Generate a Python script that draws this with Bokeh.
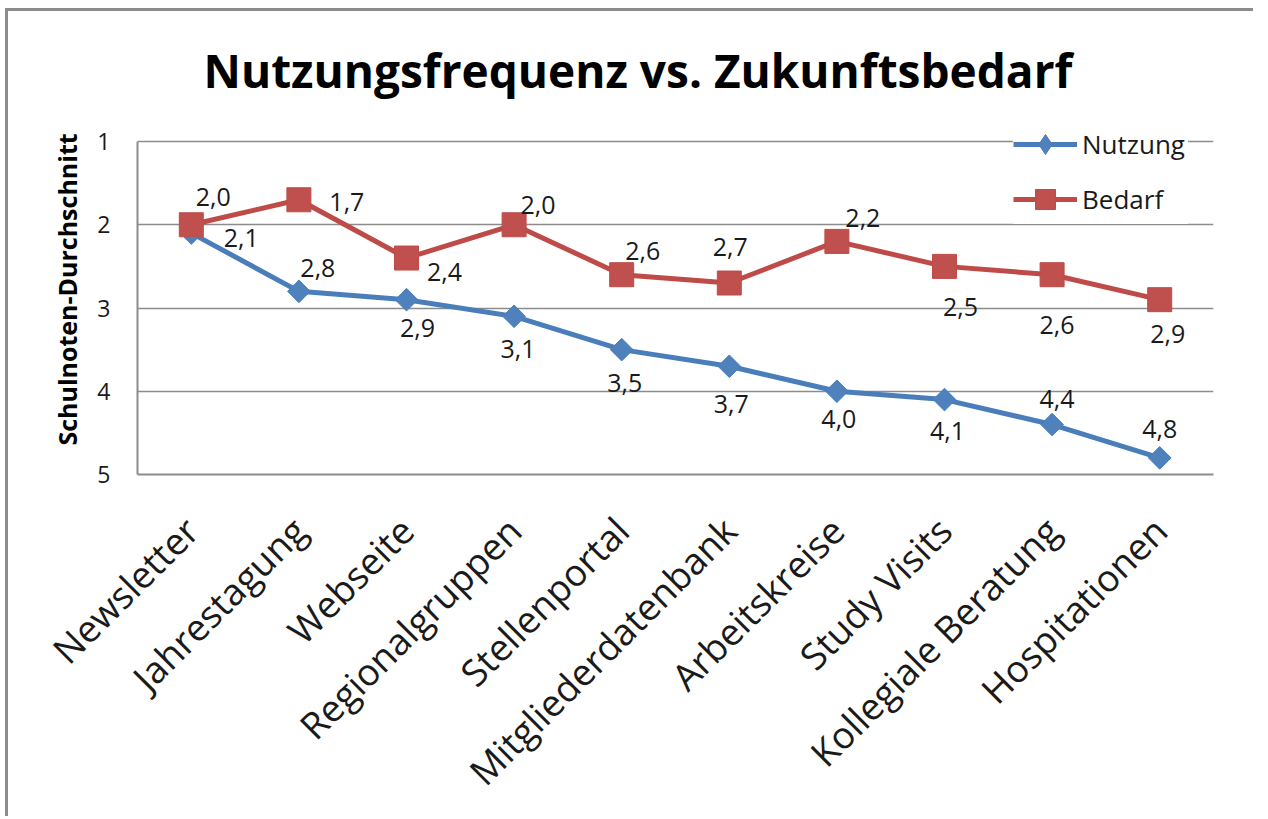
import math
from bokeh.plotting import figure
from bokeh.models import (ColumnDataSource, FactorRange, Range1d, FixedTicker,
                          LabelSet, Legend, LegendItem)
from bokeh.core.properties import value
from bokeh.embed import file_html
from bokeh.resources import INLINE

# ---------------- data ----------------
categories = ["Newsletter", "Jahrestagung", "Webseite", "Regionalgruppen",
              "Stellenportal", "Mitgliederdatenbank", "Arbeitskreise",
              "Study Visits", "Kollegiale Beratung", "Hospitationen"]
nutzung = [2.1, 2.8, 2.9, 3.1, 3.5, 3.7, 4.0, 4.1, 4.4, 4.8]
bedarf = [2.0, 1.7, 2.4, 2.0, 2.6, 2.7, 2.2, 2.5, 2.6, 2.9]
y_ticks = [1, 2, 3, 4, 5]
title_text = "Nutzungsfrequenz vs. Zukunftsbedarf"
y_title = "Schulnoten-Durchschnitt"
series_names = ["Nutzung", "Bedarf"]

# data-label placement (pixels: right, down) -- styling only
nutzung_dx = [50, 19, 11, 4, 3, 2, 2, 3, 5, 0]
nutzung_dy = [5, -23, 28, 33, 33, 38, 28, 31, -26, -29]
bedarf_dx = [22, 48, 38, 24, 21, 1, 26, 16, 5, 8]
bedarf_dy = [-28, 2, 14, -20, -24, -36, -23, 41, 50, 34]

FONT = "Open Sans"
BLUE_LINE = "#4a7ebb"
BLUE_FILL = "#4f81bd"
RED_LINE = "#be4b48"
RED_FILL = "#c0504d"
GRID = "#8c8c8c"
TEXT = "#1a1a1a"

# axis: grade 5 at the bottom, 1 near the top; a little headroom above 1
# so that the legend (which straddles the top gridline) is not clipped
Y_BOTTOM = 5
Y_TOP = 1 - 37 / 83.25


def fmt(v):
    return f"{v:.1f}".replace(".", ",")


src_n = ColumnDataSource(dict(
    cat=categories, val=nutzung, txt=[fmt(v) for v in nutzung],
    dx=nutzung_dx, dy=[-d for d in nutzung_dy]))
src_b = ColumnDataSource(dict(
    cat=categories, val=bedarf, txt=[fmt(v) for v in bedarf],
    dx=bedarf_dx, dy=[-d for d in bedarf_dy]))

p = figure(x_range=FactorRange(factors=categories),
           y_range=Range1d(start=Y_BOTTOM, end=Y_TOP),
           frame_width=1076, frame_height=370,
           min_border_left=129, min_border_right=40,
           min_border_top=93, min_border_bottom=330,
           output_backend="svg", toolbar_location=None,
           background_fill_color="white", border_fill_color="white")
p.outline_line_color = None
p.styles = {"margin-left": "5px", "margin-top": "8px",
            "border-left": "3px solid #8c8c8c", "border-top": "3px solid #8c8c8c"}

# title
p.title.text = title_text
p.title.align = "left"
p.title.offset = 66
p.title.vertical_align = "top"
p.title.standoff = 4
p.title.text_font = FONT
p.title.text_font_size = "46px"
p.title.text_font_style = "bold"
p.title.text_color = "#000000"

# grid
p.xgrid.grid_line_color = None
p.ygrid.ticker = FixedTicker(ticks=y_ticks)
p.ygrid.grid_line_color = GRID
p.ygrid.grid_line_width = 1.5

# y axis
p.yaxis.ticker = FixedTicker(ticks=y_ticks)
p.yaxis.bounds = (min(y_ticks), max(y_ticks))
p.yaxis.axis_line_color = GRID
p.yaxis.axis_line_width = 2
p.yaxis.major_tick_line_color = None
p.yaxis.minor_tick_line_color = None
p.yaxis.major_label_standoff = 21
p.yaxis.major_label_text_font = FONT
p.yaxis.major_label_text_font_size = "23px"
p.yaxis.major_label_text_color = TEXT
p.yaxis.axis_label = y_title
p.yaxis.axis_label_text_font = FONT
p.yaxis.axis_label_text_font_size = "25px"
p.yaxis.axis_label_text_font_style = "bold"
p.yaxis.axis_label_text_color = "#000000"
p.yaxis.axis_label_standoff = 10

# x axis
p.xaxis.axis_line_color = GRID
p.xaxis.axis_line_width = 2
p.xaxis.major_tick_line_color = None
p.xaxis.minor_tick_line_color = None
p.xaxis.major_label_orientation = math.pi / 4
p.xaxis.major_label_standoff = 43
p.xaxis.major_label_text_font = FONT
p.xaxis.major_label_text_font_size = "37px"
p.xaxis.major_label_text_color = TEXT

# series
rn_line = p.line(x="cat", y="val", source=src_n, line_color=BLUE_LINE,
                 line_width=5, line_join="round")
rn_pts = p.scatter(x="cat", y="val", source=src_n, marker="square",
                   angle=math.pi / 4, size=16, fill_color=BLUE_FILL,
                   line_color=BLUE_LINE, line_width=1)
rb_line = p.line(x="cat", y="val", source=src_b, line_color=RED_LINE,
                 line_width=5, line_join="round")
rb_pts = p.scatter(x="cat", y="val", source=src_b, marker="square",
                   size=24, fill_color=RED_FILL, line_color=RED_LINE,
                   line_width=1)
# legend-only diamond marker (legend glyphs are never rotated); its single
# y value is NaN, so it draws nothing inside the plot
rn_leg = p.scatter(x=[categories[0]], y=[float("nan")],
                   marker="diamond", fill_color=BLUE_FILL,
                   line_color=BLUE_LINE, line_width=1)

for src in (src_n, src_b):
    p.add_layout(LabelSet(x="cat", y="val", text="txt", source=src,
                          x_offset="dx", y_offset="dy",
                          text_align="center", text_baseline="middle",
                          text_font=value(FONT), text_font_size="25px",
                          text_color=TEXT))

leg = Legend(items=[LegendItem(label=series_names[0], renderers=[rn_line, rn_leg]),
                    LegendItem(label=series_names[1], renderers=[rb_line, rb_pts])],
             location=(876, 250), glyph_width=64, glyph_height=50,
             label_height=50, label_width=106, spacing=5, padding=12, margin=0,
             label_standoff=5, border_line_color=None,
             background_fill_color="white", background_fill_alpha=1.0,
             label_text_font=FONT, label_text_font_size="26px",
             label_text_color=TEXT)
p.add_layout(leg, "center")

open("out.html", "w").write(file_html(p, INLINE))
